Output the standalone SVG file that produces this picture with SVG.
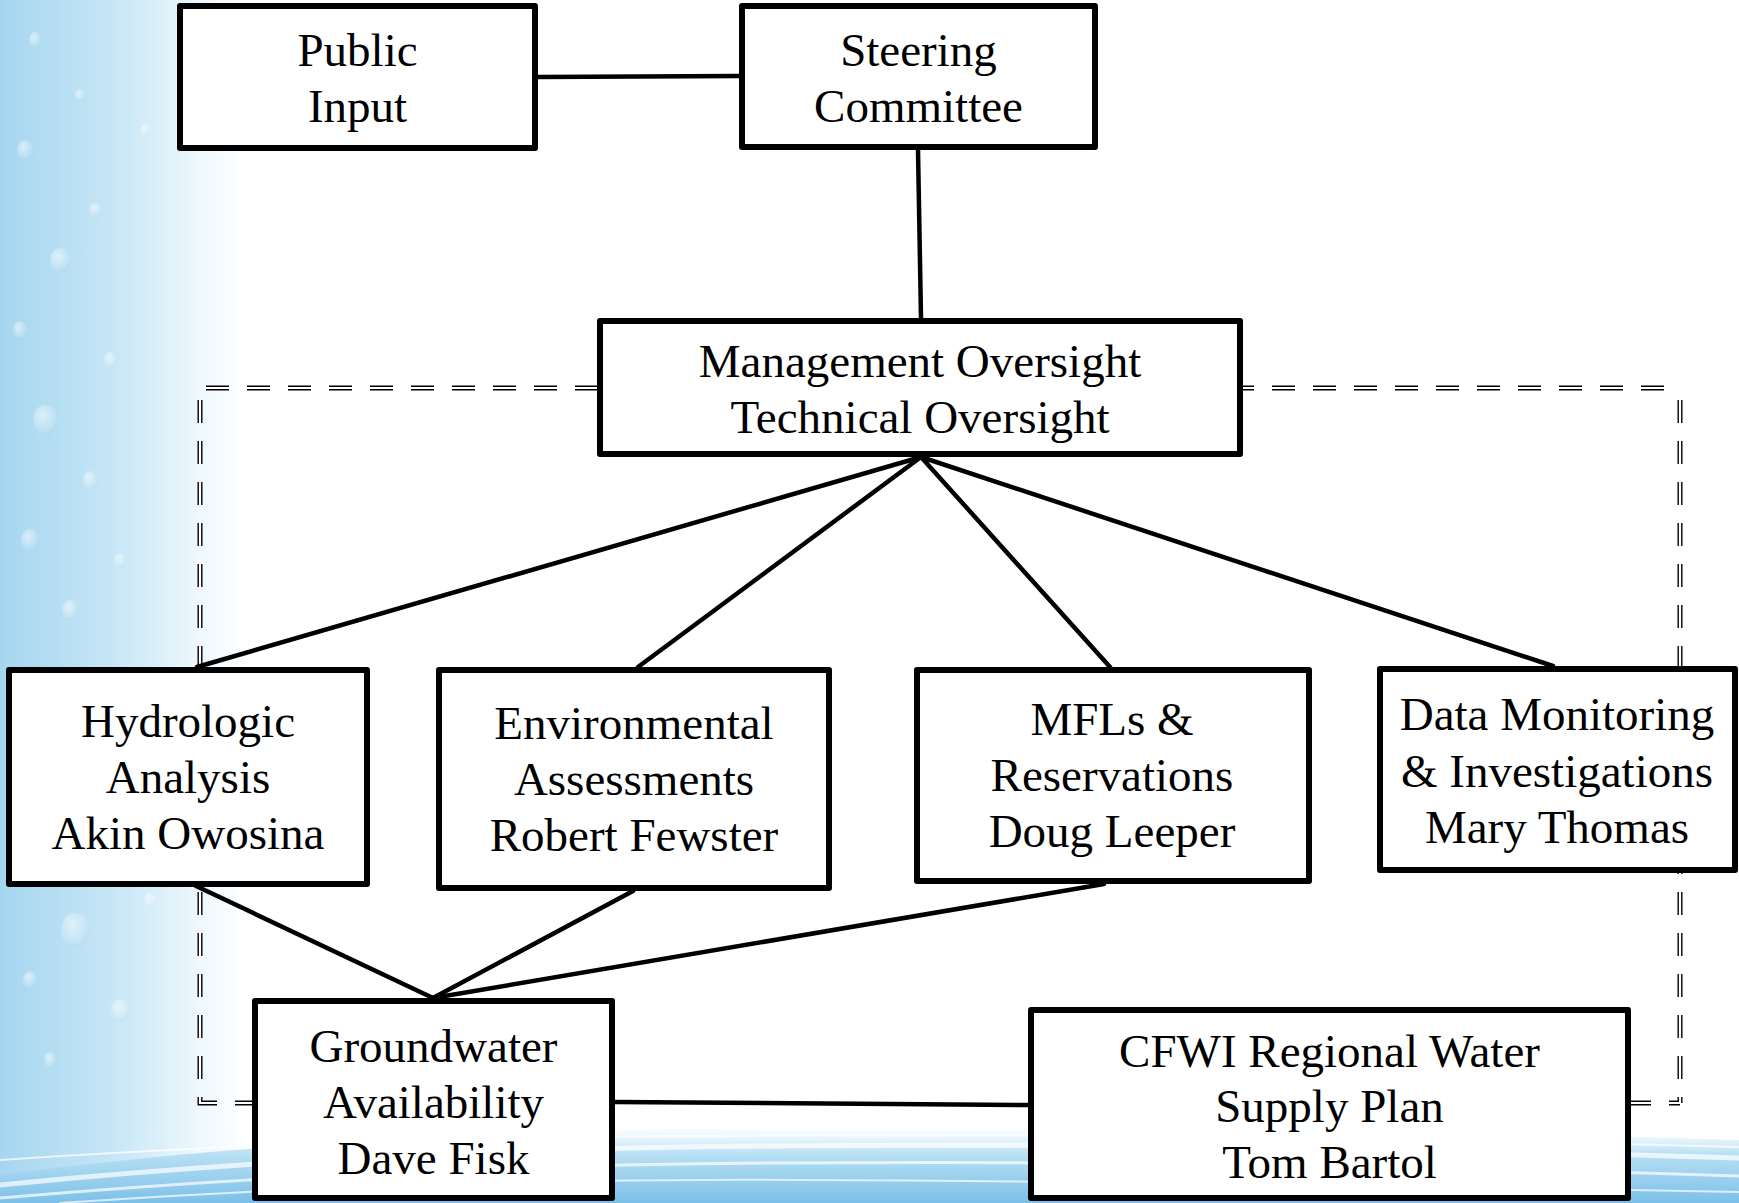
<svg xmlns="http://www.w3.org/2000/svg" width="1739" height="1203" viewBox="0 0 1739 1203">
  <defs>
    <linearGradient id="leftBg" x1="0" y1="0" x2="1" y2="0">
      <stop offset="0" stop-color="#a6d6ef"/>
      <stop offset="0.45" stop-color="#c6e6f6"/>
      <stop offset="0.8" stop-color="#eef8fd"/>
      <stop offset="1" stop-color="#ffffff"/>
    </linearGradient>
    <linearGradient id="waveBg" x1="0" y1="0" x2="0" y2="1">
      <stop offset="0" stop-color="#d7eefa" stop-opacity="0"/>
      <stop offset="0.35" stop-color="#b9e0f4"/>
      <stop offset="1" stop-color="#7cc0e8"/>
    </linearGradient>
    <radialGradient id="dropGrad" cx="0.4" cy="0.35" r="0.7">
      <stop offset="0" stop-color="#ffffff" stop-opacity="0.55"/>
      <stop offset="0.7" stop-color="#ffffff" stop-opacity="0.15"/>
      <stop offset="1" stop-color="#7fc2e6" stop-opacity="0.25"/>
    </radialGradient>
    <style>
      .node rect { fill: #ffffff; stroke: #000000; stroke-width: 6; stroke-linejoin: round; }
      .node text { font-family: "Liberation Serif", "Times New Roman", serif; font-size: 47px; fill: #000000; text-anchor: middle; }
      .conn line { stroke: #000000; stroke-width: 4.5; stroke-linecap: round; }
      .dashOuter { fill: none; stroke: #000000; stroke-width: 5; stroke-dasharray: 23 18; }
      .dashInner { fill: none; stroke: #ffffff; stroke-width: 2.2; stroke-dasharray: 23 18; }
      .drop { fill: url(#dropGrad); }
      .streak { fill: none; stroke: #ffffff; stroke-opacity: 0.7; stroke-linecap: round; }
    </style>
  </defs>

  <!-- background -->
  <rect x="0" y="0" width="1739" height="1203" fill="#ffffff"/>
  <rect x="0" y="0" width="250" height="1203" fill="url(#leftBg)"/>
  <g id="droplets">
    <ellipse class="drop" cx="35" cy="40" rx="6" ry="8"/>
    <ellipse class="drop" cx="80" cy="95" rx="5" ry="6"/>
    <ellipse class="drop" cx="25" cy="150" rx="8" ry="10"/>
    <ellipse class="drop" cx="95" cy="210" rx="6" ry="7"/>
    <ellipse class="drop" cx="60" cy="260" rx="10" ry="12"/>
    <ellipse class="drop" cx="20" cy="330" rx="7" ry="9"/>
    <ellipse class="drop" cx="110" cy="360" rx="6" ry="8"/>
    <ellipse class="drop" cx="45" cy="420" rx="12" ry="15"/>
    <ellipse class="drop" cx="90" cy="480" rx="7" ry="9"/>
    <ellipse class="drop" cx="30" cy="540" rx="9" ry="11"/>
    <ellipse class="drop" cx="120" cy="560" rx="6" ry="7"/>
    <ellipse class="drop" cx="70" cy="610" rx="8" ry="10"/>
    <ellipse class="drop" cx="75" cy="930" rx="14" ry="17"/>
    <ellipse class="drop" cx="30" cy="980" rx="7" ry="9"/>
    <ellipse class="drop" cx="120" cy="1010" rx="9" ry="11"/>
    <ellipse class="drop" cx="50" cy="1060" rx="6" ry="8"/>
    <ellipse class="drop" cx="150" cy="900" rx="6" ry="7"/>
    <ellipse class="drop" cx="145" cy="130" rx="5" ry="6"/>
  </g>
  <g id="wave">
    <path d="M0,1203 L0,1175 Q300,1135 700,1128 Q1200,1122 1739,1140 L1739,1203 Z" fill="url(#waveBg)"/>
    <path class="streak" stroke-width="5" d="M0,1185 Q350,1150 760,1146 Q1250,1142 1739,1158"/>
    <path class="streak" stroke-width="3" d="M0,1198 Q380,1165 780,1163 Q1260,1160 1739,1176"/>
    <path class="streak" stroke-width="2" d="M60,1203 Q420,1178 800,1180 Q1250,1182 1739,1192"/>
    <path class="streak" stroke-width="2" d="M0,1160 Q320,1138 700,1136 Q1200,1132 1739,1147"/>
  </g>

  <!-- dashed double boundary -->
  <g id="boundary">
    <path class="dashOuter" d="M206,388 H1680 M200,400 V1103 H255 M1628,1103 H1680 M1680,400 V1103"/>
    <path class="dashInner" d="M206,388 H1680 M200,400 V1103 H255 M1628,1103 H1680 M1680,400 V1103"/>
  </g>

  <!-- connectors -->
  <g id="connectors" class="conn">
    <line x1="538" y1="77" x2="739" y2="76"/>
    <line x1="918" y1="150" x2="921" y2="318"/>
    <line x1="921" y1="457" x2="197" y2="667"/>
    <line x1="921" y1="457" x2="638" y2="667"/>
    <line x1="921" y1="457" x2="1110" y2="667"/>
    <line x1="921" y1="457" x2="1553" y2="666"/>
    <line x1="196" y1="886" x2="433" y2="998"/>
    <line x1="633" y1="891" x2="433" y2="998"/>
    <line x1="1104" y1="884" x2="433" y2="998"/>
    <line x1="615" y1="1102" x2="1028" y2="1105"/>
  </g>

  <!-- nodes -->
  <g id="public-input" class="node">
    <rect x="180" y="6" width="355" height="142"/>
    <text x="357.5" y="66">Public</text>
    <text x="357.5" y="122">Input</text>
  </g>
  <g id="steering-committee" class="node">
    <rect x="742" y="6" width="353" height="141"/>
    <text x="918.5" y="66">Steering</text>
    <text x="918.5" y="122">Committee</text>
  </g>
  <g id="management-oversight" class="node">
    <rect x="600" y="321" width="640" height="133"/>
    <text x="920" y="377">Management Oversight</text>
    <text x="920" y="433">Technical Oversight</text>
  </g>
  <g id="hydrologic-analysis" class="node">
    <rect x="9" y="670" width="358" height="214"/>
    <text x="188" y="737">Hydrologic</text>
    <text x="188" y="793">Analysis</text>
    <text x="188" y="849">Akin Owosina</text>
  </g>
  <g id="environmental-assessments" class="node">
    <rect x="439" y="670" width="390" height="218"/>
    <text x="634" y="739">Environmental</text>
    <text x="634" y="795">Assessments</text>
    <text x="634" y="851">Robert Fewster</text>
  </g>
  <g id="mfls-reservations" class="node">
    <rect x="917" y="670" width="392" height="211"/>
    <text x="1112" y="735">MFLs &amp;</text>
    <text x="1112" y="791">Reservations</text>
    <text x="1112" y="847">Doug Leeper</text>
  </g>
  <g id="data-monitoring" class="node">
    <rect x="1380" y="669" width="355" height="201"/>
    <text x="1557" y="730">Data Monitoring</text>
    <text x="1557" y="787">&amp; Investigations</text>
    <text x="1557" y="843">Mary Thomas</text>
  </g>
  <g id="groundwater-availability" class="node">
    <rect x="255" y="1001" width="357" height="197"/>
    <text x="433.5" y="1062">Groundwater</text>
    <text x="433.5" y="1118">Availability</text>
    <text x="433.5" y="1174">Dave Fisk</text>
  </g>
  <g id="cfwi-rwsp" class="node">
    <rect x="1031" y="1010" width="597" height="188"/>
    <text x="1329.5" y="1067">CFWI Regional Water</text>
    <text x="1329.5" y="1122">Supply Plan</text>
    <text x="1329.5" y="1178">Tom Bartol</text>
  </g>
</svg>
